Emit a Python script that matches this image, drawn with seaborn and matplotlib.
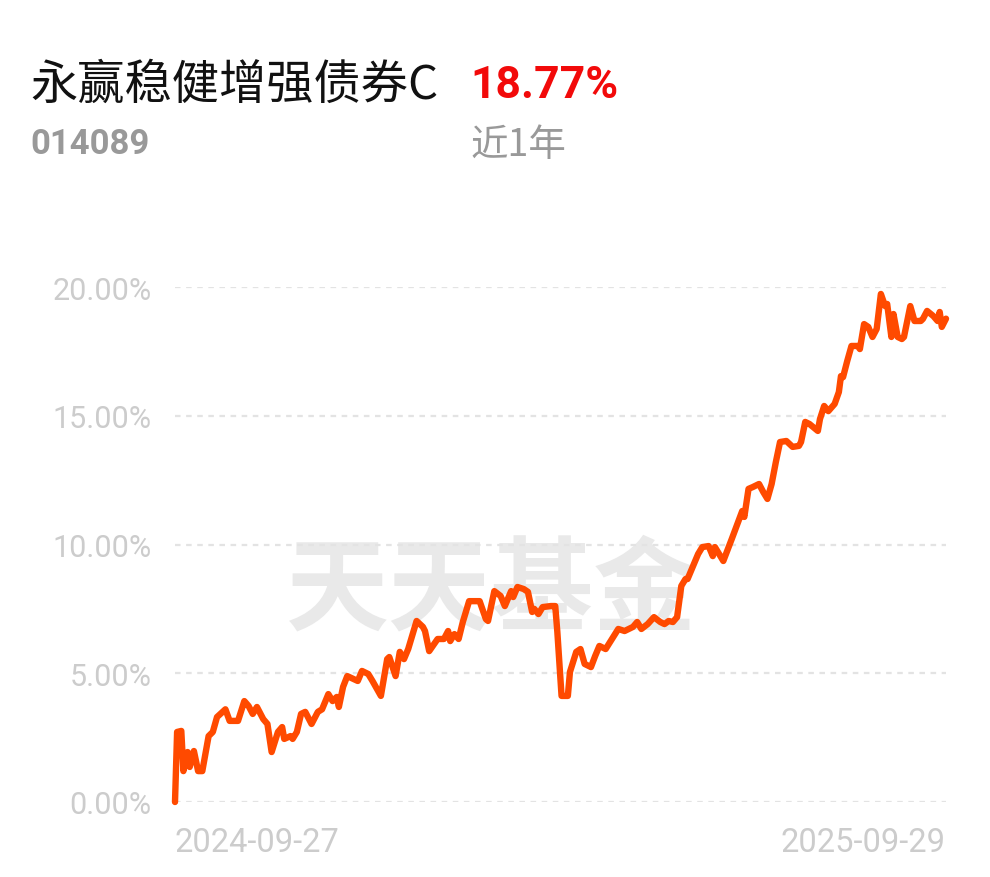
import numpy as np
import pandas as pd
import matplotlib
matplotlib.use("Agg")
import matplotlib.pyplot as plt
import seaborn as sns

# ---- data ----
start_date = "2024-09-27"
end_date = "2025-09-29"
day_offsets = [0, 1, 3, 4, 6, 7, 9, 11, 13, 16, 18, 20, 24, 26, 30, 33, 35, 37, 39, 42,
               44, 46, 49, 51, 52, 55, 56, 58, 60, 62, 65, 68, 70, 73, 75, 77, 78, 80, 82, 87,
               89, 92, 94, 98, 101, 102, 105, 107, 109, 111, 115, 118, 119, 121, 125, 128, 130, 131, 133, 135,
               137, 140, 143, 145, 148, 149, 152, 155, 157, 160, 161, 163, 166, 168, 170, 171, 173, 175, 179, 181,
               182, 184, 187, 188, 191, 193, 195, 198, 200, 202, 205, 208, 211, 214, 218, 220, 222, 225, 228, 231,
               233, 235, 237, 239, 241, 243, 244, 247, 249, 251, 254, 256, 257, 261, 265, 268, 270, 271, 273, 275,
               278, 280, 282, 284, 286, 288, 291, 294, 297, 298, 300, 302, 306, 307, 309, 311, 314, 316, 317, 318,
               320, 322, 325, 326, 328, 330, 332, 334, 336, 338, 339, 341, 342, 344, 346, 347, 350, 352, 355, 356,
               358, 361, 363, 364, 365, 367]
returns = [0.00, 2.72, 2.76, 1.20, 1.94, 1.36, 1.98, 1.20, 1.20, 2.56, 2.72, 3.30, 3.60, 3.15, 3.15, 3.92, 3.73, 3.42, 3.69, 3.22,
           3.03, 1.94, 2.72, 2.91, 2.45, 2.56, 2.45, 2.72, 3.42, 3.50, 3.03, 3.50, 3.60, 4.19, 3.92, 4.08, 3.69, 4.47, 4.89, 4.70,
           5.09, 4.97, 4.70, 4.12, 5.55, 5.63, 4.89, 5.83, 5.55, 5.94, 7.03, 6.80, 6.64, 5.86, 6.33, 6.33, 6.64, 6.25, 6.52, 6.33,
           6.99, 7.80, 7.80, 7.80, 7.10, 7.03, 8.19, 8.00, 7.61, 8.19, 7.96, 8.35, 8.27, 8.16, 7.38, 7.50, 7.30, 7.57, 7.61, 7.61,
           6.60, 4.12, 4.12, 5.05, 5.83, 5.94, 5.36, 5.24, 5.67, 6.06, 5.94, 6.33, 6.72, 6.64, 6.80, 6.99, 6.72, 6.91, 7.18, 6.99,
           6.91, 7.03, 6.99, 7.18, 8.39, 8.66, 8.66, 9.24, 9.63, 9.90, 9.94, 9.55, 9.90, 9.36, 10.21, 10.87, 11.30, 11.07, 12.16, 12.23,
           12.35, 12.04, 11.77, 12.35, 13.20, 13.98, 14.02, 13.79, 13.83, 13.98, 14.76, 14.68, 14.41, 14.87, 15.38, 15.18, 15.46, 15.92, 16.54, 16.50,
           17.13, 17.71, 17.71, 17.59, 18.56, 18.45, 18.06, 18.37, 19.73, 19.26, 19.34, 18.06, 18.95, 18.06, 17.98, 18.06, 19.26, 18.68, 18.68, 18.76,
           19.07, 18.87, 18.68, 19.03, 18.45, 18.77]
y_ticks = [0, 5, 10, 15, 20]
y_tick_labels = ["0.00%", "5.00%", "10.00%", "15.00%", "20.00%"]
fund_name = "永赢稳健增强债券C"
fund_code = "014089"
period_return = "18.77%"
period_label = "近1年"
watermark = "天天基金"

dates = pd.to_datetime(start_date) + pd.to_timedelta(day_offsets, unit="D")
df = pd.DataFrame({"date": dates, "ret": returns})

sns.set_theme(style="white")
plt.rcParams["font.family"] = ["Roboto", "Noto Sans CJK SC", "DejaVu Sans"]
plt.rcParams["lines.scale_dashes"] = False

fig = plt.figure(figsize=(9.9, 8.78), dpi=100)
ax = fig.add_axes([175 / 990, (878 - 803) / 878, (946 - 175) / 990, (803 - 288) / 878])

# watermark
ax.text(0.41, 0.41, watermark, transform=ax.transAxes, ha="center", va="center",
        fontsize=74, color="#e9e9e9", fontweight="heavy",
        family=["Noto Sans CJK SC", "DejaVu Sans"], zorder=0)

for yv in y_ticks:
    ax.axhline(yv, color="#e3e3e3", lw=1.6, ls=(0, (4, 4)), zorder=1)

sns.lineplot(data=df, x="date", y="ret", ax=ax, color="#ff4a00", lw=4.6,
             solid_joinstyle="round", solid_capstyle="round", zorder=3, clip_on=False)

ax.set_xlim(pd.to_datetime(start_date), pd.to_datetime(end_date))
ax.set_ylim(0, 20)
ax.set_xlabel("")
ax.set_ylabel("")
for s in ax.spines.values():
    s.set_visible(False)

ax.set_yticks(y_ticks)
ax.set_yticklabels(y_tick_labels, fontsize=22, color="#cccccc")
ax.tick_params(axis="y", length=0, pad=17)

ax.set_xticks([pd.to_datetime(start_date), pd.to_datetime(end_date)])
ax.set_xticklabels([start_date, end_date], fontsize=23.5, color="#cccccc")
ax.tick_params(axis="x", length=0, pad=17)
xl = ax.get_xticklabels()
xl[0].set_ha("left")
xl[1].set_ha("right")

# header texts
fig.text(30 / 990, 1 - 86 / 878, fund_name, fontsize=34, color="#111111",
         family=["Noto Sans CJK SC", "DejaVu Sans"], va="center", ha="left")
fig.text(470 / 990, 1 - 86 / 878, period_return, fontsize=32, color="#f20a0a",
         fontweight="bold", family=["Roboto", "DejaVu Sans"], va="center", ha="left")
fig.text(30 / 990, 1 - 145 / 878, fund_code, fontsize=25, color="#999999",
         fontweight="bold", family=["Roboto", "DejaVu Sans"], va="center", ha="left")
fig.text(470 / 990, 1 - 146 / 878, period_label, fontsize=27, color="#999999",
         family=["Noto Sans CJK SC", "DejaVu Sans"], va="center", ha="left")

fig.savefig("out.png", dpi=100, facecolor="white")
